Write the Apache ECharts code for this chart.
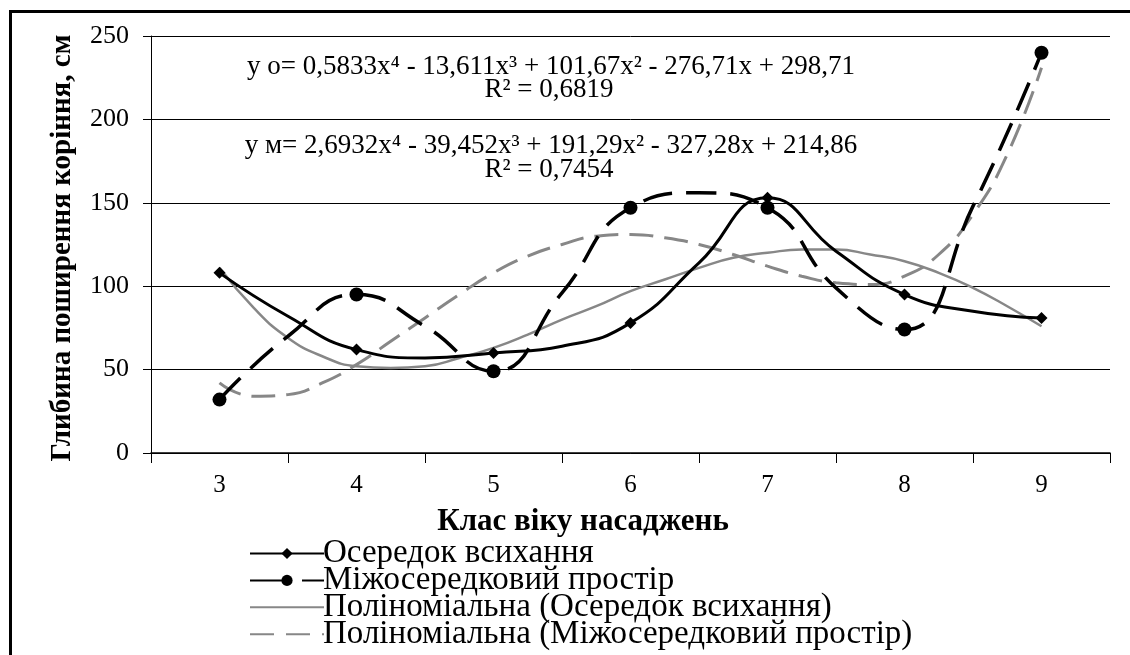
<!DOCTYPE html>
<html>
<head>
<meta charset="utf-8">
<script src="https://cdn.jsdelivr.net/npm/echarts@6/dist/echarts.min.js"></script>
<style>html,body{margin:0;padding:0;background:#fff;}#chart{width:1130px;height:655px;}</style>
</head>
<body>
<div id="chart"></div>
<script>
// ---- data ----
const categories = ['3', '4', '5', '6', '7', '8', '9'];
const classX = [3, 4, 5, 6, 7, 8, 9];
const seriesNames = ['Осередок всихання', 'Міжосередковий простір',
  'Поліноміальна (Осередок всихання)', 'Поліноміальна (Міжосередковий простір)'];
// measured values at each age class
const osered = [108, 62, 60, 78, 153, 95, 81];
const mizh = [32, 95, 49, 147, 147, 74, 240];
// smoothed connecting curves (3.5 ... 8.5)
const oseredMid = [82, 57, 64, 114, 121, 85];
const mizhMid = [70, 76, 96, 156, 99, 148];
// polynomial trend curves at quarter-class steps
const trendX = [3, 3.25, 3.5, 3.75, 4, 4.25, 4.5, 4.75, 5, 5.25, 5.5, 5.75, 6, 6.25, 6.5, 6.75, 7, 7.25, 7.5, 7.75, 8, 8.25, 8.5, 8.75, 9];
const trendOsered = [111, 87, 69, 58, 52, 51, 52, 57, 63, 71, 80, 88, 97, 104, 111, 117, 120, 122, 122, 119, 115, 108, 99, 88, 76];
const trendMizh = [42, 34, 35, 42, 53, 67, 81, 95, 108, 118, 125, 130, 131, 129, 125, 119, 112, 106, 102, 101, 106, 119, 143, 179, 231];
const yTicks = [0, 50, 100, 150, 200, 250];
const eqO = 'y о= 0,5833x⁴ - 13,611x³ + 101,67x² - 276,71x + 298,71';
const r2O = 'R² = 0,6819';
const eqM = 'y м= 2,6932x⁴ - 39,452x³ + 191,29x² - 327,28x + 214,86';
const r2M = 'R² = 0,7454';
const xTitle = 'Клас віку насаджень';
const yTitle = 'Глибина поширення коріння, см';

const FONT = '"Liberation Serif", "Times New Roman", serif';
const chart = echarts.init(document.getElementById('chart'), null, {renderer: 'canvas'});
const pair = (xs, ys) => xs.map((x, i) => [x, ys[i]]);
function withMid(vals, mids) {
  const out = [];
  vals.forEach((v, i) => {
    out.push([classX[i], v]);
    if (i < mids.length) out.push({value: [classX[i] + 0.5, mids[i]], symbol: 'none'});
  });
  return out;
}

chart.setOption({
  animation: false,
  backgroundColor: '#fff',
  textStyle: {fontFamily: FONT, color: '#000'},
  grid: {left: 151, right: 20, top: 36, bottom: 202, containLabel: false},
  legend: {
    orient: 'vertical', left: 244, top: 532, height: 130,
    itemWidth: 74, itemHeight: 14, itemGap: -6.1,
    textStyle: {fontFamily: FONT, fontSize: 33, color: '#000', padding: [0, 0, 0, -6]},
    data: [
      {name: seriesNames[0]},
      {name: seriesNames[1], lineStyle: {type: [40, 12]}},
      {name: seriesNames[2], itemStyle: {color: 'rgba(0,0,0,0)', opacity: 0}},
      {name: seriesNames[3], lineStyle: {type: [24, 12]}, itemStyle: {color: 'rgba(0,0,0,0)', opacity: 0}}
    ]
  },
  xAxis: [{
    type: 'category', data: categories, boundaryGap: true,
    axisLine: {lineStyle: {color: '#000', width: 1.5}},
    axisTick: {show: true, interval: 0, length: 10, lineStyle: {color: '#000', width: 1}},
    axisLabel: {fontFamily: FONT, fontSize: 25, color: '#000', margin: 20},
    splitLine: {show: false}
  }, {
    type: 'value', min: 2.5, max: 9.5, show: false
  }],
  yAxis: {
    type: 'value', min: yTicks[0], max: yTicks[yTicks.length - 1], interval: 50,
    axisLine: {show: true, lineStyle: {color: '#000', width: 1}},
    axisTick: {show: true, length: 8, lineStyle: {color: '#000'}},
    axisLabel: {fontFamily: FONT, fontSize: 26, color: '#000', margin: 22},
    splitLine: {show: true, lineStyle: {color: '#000', width: 1}}
  },
  series: [
    {name: seriesNames[0], type: 'line', xAxisIndex: 1, data: withMid(osered, oseredMid), smooth: 0.5,
      symbol: 'diamond', symbolSize: 12, lineStyle: {color: '#000', width: 3}, itemStyle: {color: '#000'}, z: 4},
    {name: seriesNames[1], type: 'line', xAxisIndex: 1, data: withMid(mizh, mizhMid), smooth: 0.5,
      symbol: 'circle', symbolSize: 14, lineStyle: {color: '#000', width: 3.5, type: [30, 14]}, itemStyle: {color: '#000'}, z: 3},
    {name: seriesNames[2], type: 'line', xAxisIndex: 1, data: pair(trendX, trendOsered), smooth: 0.5,
      showSymbol: false, symbol: 'none', lineStyle: {color: '#878787', width: 2.5}, itemStyle: {color: '#878787'}, z: 2},
    {name: seriesNames[3], type: 'line', xAxisIndex: 1, data: pair(trendX, trendMizh), smooth: 0.5,
      showSymbol: false, symbol: 'none', lineStyle: {color: '#878787', width: 3, type: [24, 11]}, itemStyle: {color: '#878787'}, z: 2}
  ],
  graphic: [
    {type: 'rect', left: 8, top: 9, shape: {width: 1200, height: 800}, style: {fill: 'none', stroke: '#000', lineWidth: 3}, silent: true, z: 0},
    {type: 'text', x: 551, y: 67, style: {text: eqO, font: '27px ' + FONT, fill: '#000', align: 'center', verticalAlign: 'middle'}},
    {type: 'text', x: 549, y: 90, style: {text: r2O, font: '27px ' + FONT, fill: '#000', align: 'center', verticalAlign: 'middle'}},
    {type: 'text', x: 551, y: 146, style: {text: eqM, font: '27px ' + FONT, fill: '#000', align: 'center', verticalAlign: 'middle'}},
    {type: 'text', x: 549, y: 170, style: {text: r2M, font: '27px ' + FONT, fill: '#000', align: 'center', verticalAlign: 'middle'}},
    {type: 'text', x: 583, y: 522, style: {text: xTitle, font: 'bold 31px ' + FONT, fill: '#000', align: 'center', verticalAlign: 'middle'}},
    {type: 'text', x: 63, y: 248, rotation: Math.PI / 2, style: {text: yTitle, font: 'bold 29px ' + FONT, fill: '#000', align: 'center', verticalAlign: 'middle'}}
  ]
});
</script>
</body>
</html>
